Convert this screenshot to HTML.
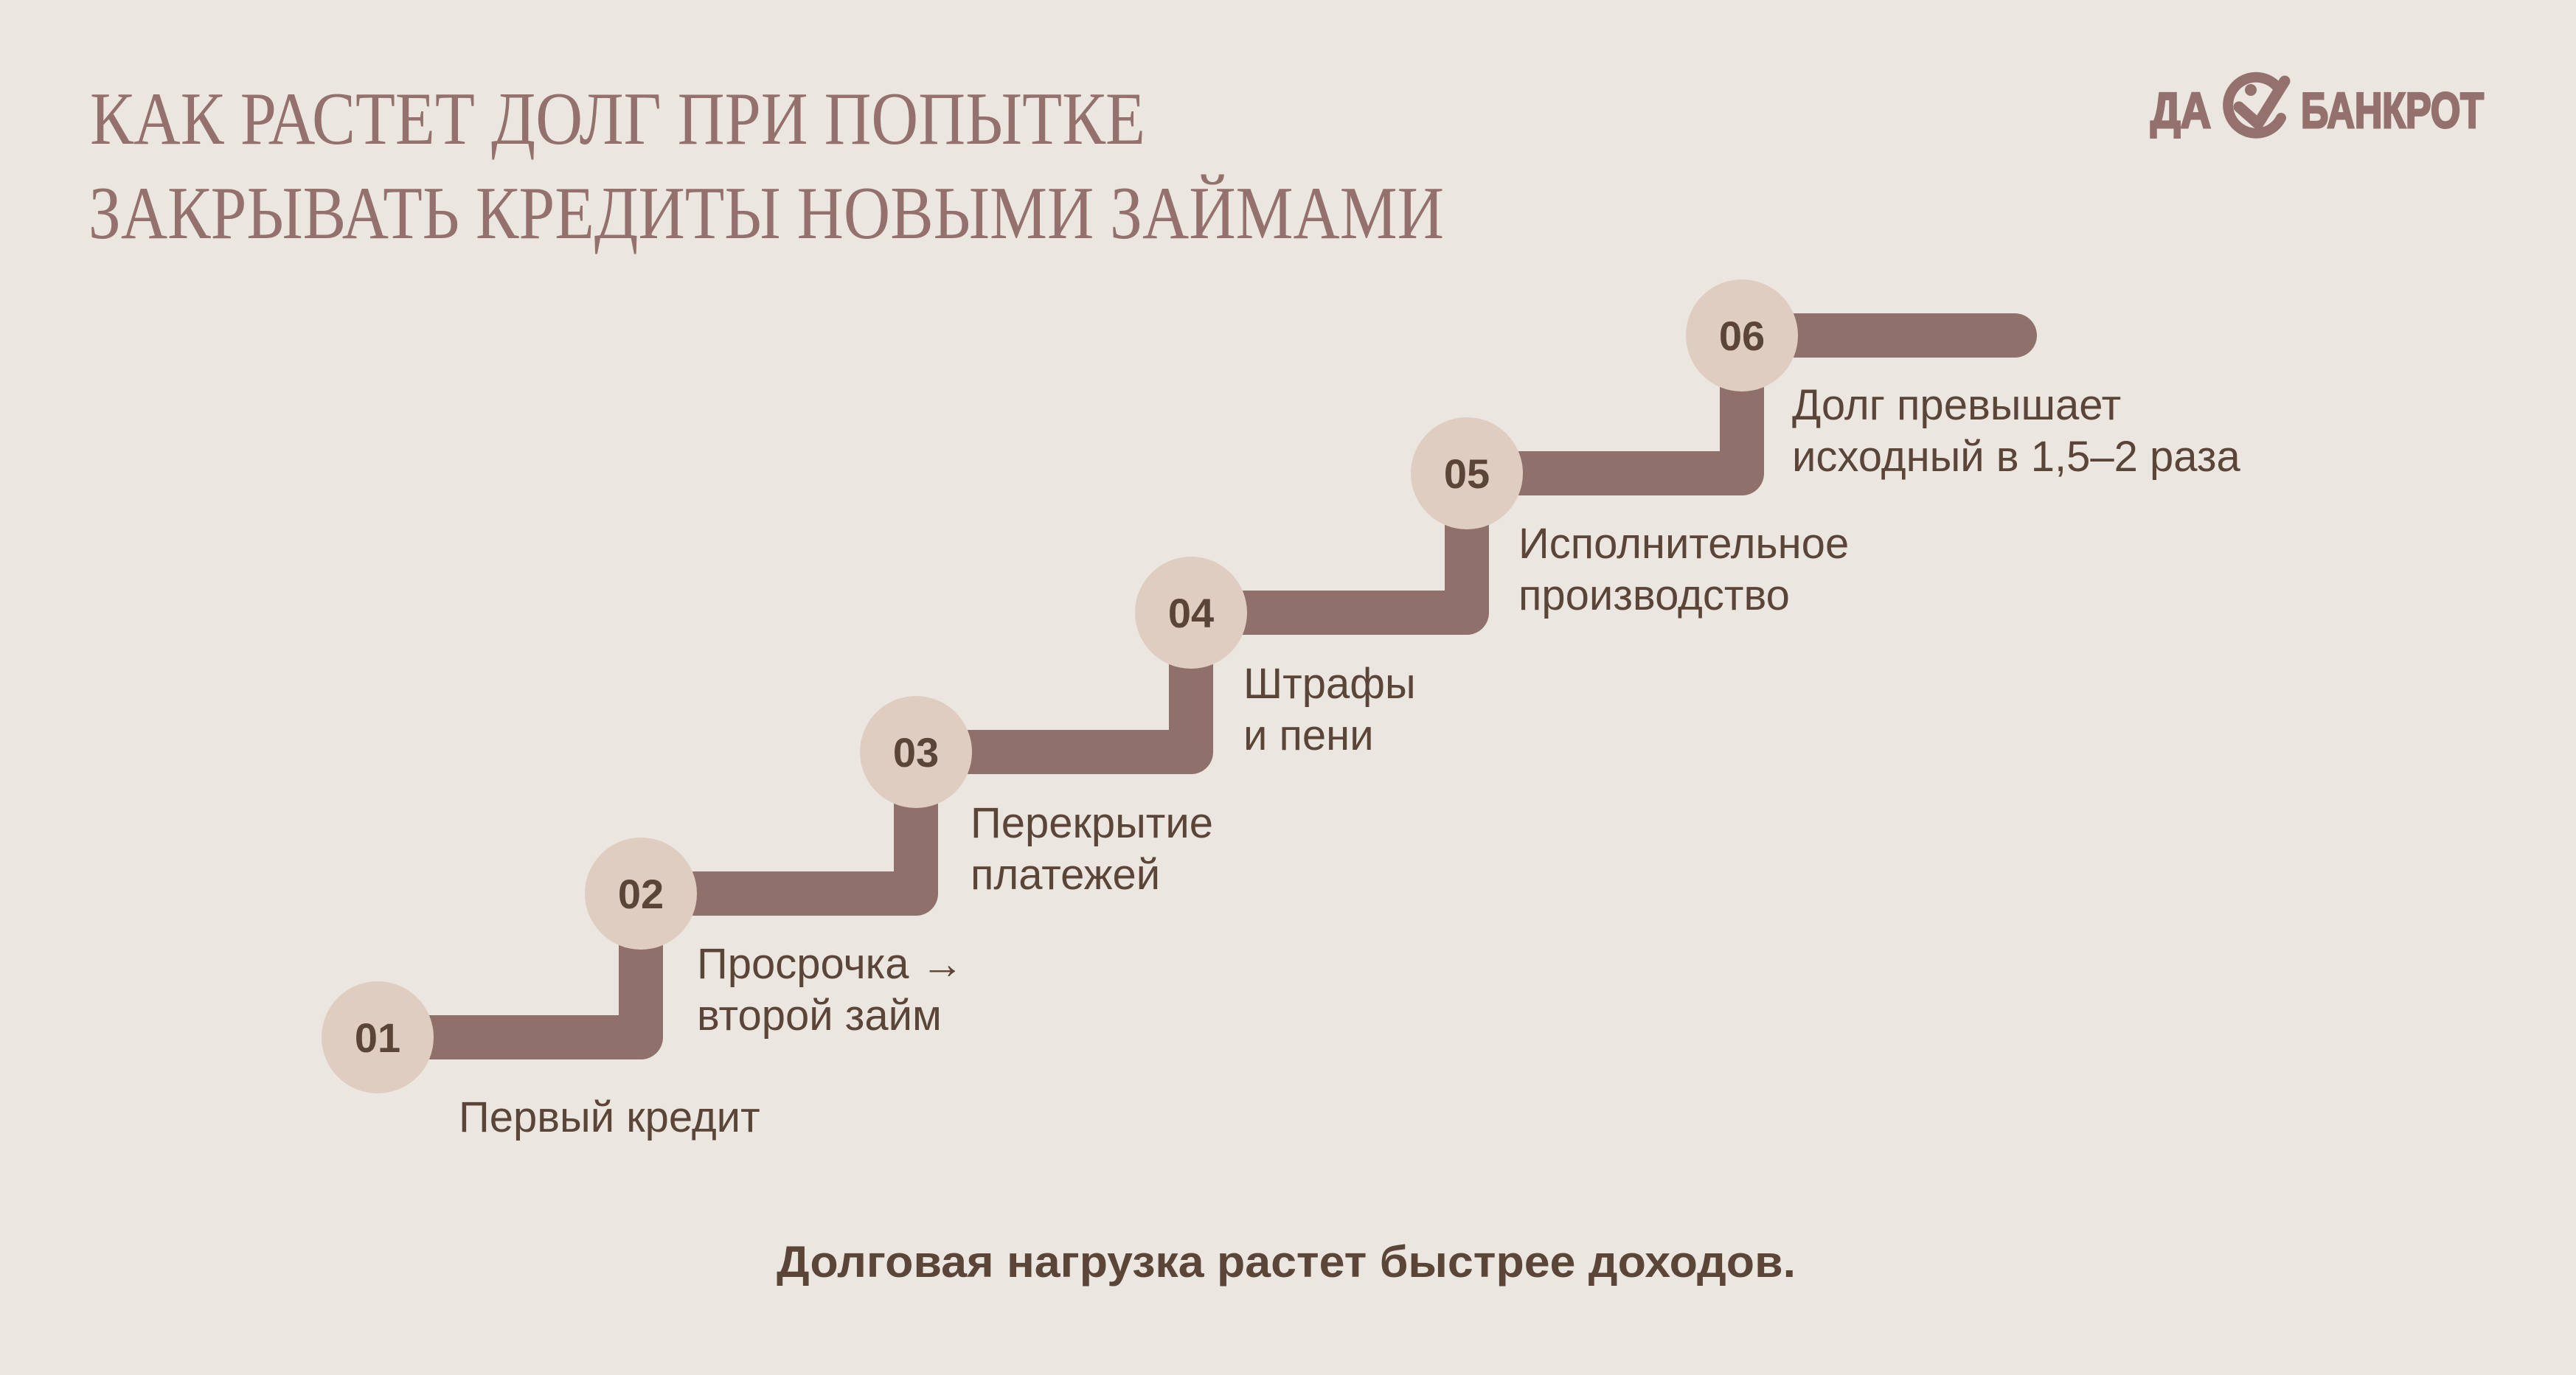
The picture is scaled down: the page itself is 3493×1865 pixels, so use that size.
<!DOCTYPE html>
<html><head><meta charset="utf-8"><style>
html,body{margin:0;padding:0;background:#ebe7e0;}
svg{display:block;}
</style></head><body>
<svg width="3493" height="1865" viewBox="0 0 3493 1865" xmlns="http://www.w3.org/2000/svg">
<rect width="3493" height="1865" fill="#ebe7e0"/>
<g font-family="'Liberation Serif', serif" fill="#94716c" font-size="102">
<text x="122" y="195" textLength="1431" lengthAdjust="spacingAndGlyphs">КАК РАСТЕТ ДОЛГ ПРИ ПОПЫТКЕ</text>
<text x="120" y="323" textLength="1838" lengthAdjust="spacingAndGlyphs">ЗАКРЫВАТЬ КРЕДИТЫ НОВЫМИ ЗАЙМАМИ</text>
</g>
<!-- logo -->
<g fill="#94716c" font-family="'Liberation Sans', sans-serif" font-weight="bold" font-size="68">
<text x="2916" y="173" textLength="82" lengthAdjust="spacingAndGlyphs" stroke="#94716c" stroke-width="3">ДА</text>
<text x="3120" y="173" textLength="248" lengthAdjust="spacingAndGlyphs" stroke="#94716c" stroke-width="3">БАНКРОТ</text>
</g>
<g fill="none" stroke="#94716c" stroke-linecap="round">
<path d="M3088 118 A38 38 0 1 0 3093 160" stroke-width="14"/>
<polyline points="3036,145 3062,168 3098,110" stroke-width="15" stroke-linejoin="round"/>
</g>
<circle cx="3052" cy="122" r="8" fill="#94716c"/>
<!-- stair bars -->
<g fill="none" stroke="#8f706b" stroke-width="60" stroke-linejoin="round">
<path d="M512 1407 H869 V1212"/>
<path d="M869 1212 H1242 V1020"/>
<path d="M1242 1020 H1615 V831"/>
<path d="M1615 831 H1989 V642"/>
<path d="M1989 642 H2362 V455"/>
<path d="M2362 455 H2732" stroke-linecap="round"/>
</g>
<g fill="#dfcdc1">
<circle cx="512" cy="1407" r="76"/>
<circle cx="869" cy="1212" r="76"/>
<circle cx="1242" cy="1020" r="76"/>
<circle cx="1615" cy="831" r="76"/>
<circle cx="1989" cy="642" r="76"/>
<circle cx="2362" cy="455" r="76"/>
</g>
<g font-family="'Liberation Sans', sans-serif" font-weight="bold" font-size="56" fill="#5a4538" text-anchor="middle">
<text x="512" y="1427">01</text>
<text x="869" y="1232">02</text>
<text x="1242" y="1040">03</text>
<text x="1615" y="851">04</text>
<text x="1989" y="662">05</text>
<text x="2362" y="475">06</text>
</g>
<g font-family="'Liberation Sans', sans-serif" font-size="58" fill="#5a4538">
<text x="622" y="1535">Первый кредит</text>
<text x="945" y="1327">Просрочка →</text>
<text x="945" y="1397">второй займ</text>
<text x="1316" y="1136">Перекрытие</text>
<text x="1316" y="1206">платежей</text>
<text x="1686" y="947">Штрафы</text>
<text x="1686" y="1017">и пени</text>
<text x="2059" y="757">Исполнительное</text>
<text x="2059" y="827">производство</text>
<text x="2430" y="569">Долг превышает</text>
<text x="2430" y="639">исходный в 1,5–2 раза</text>
</g>
<text x="1053" y="1732" textLength="1382" lengthAdjust="spacingAndGlyphs" font-family="'Liberation Sans', sans-serif" font-weight="bold" font-size="60" fill="#5a4538">Долговая нагрузка растет быстрее доходов.</text>
</svg>
</body></html>
